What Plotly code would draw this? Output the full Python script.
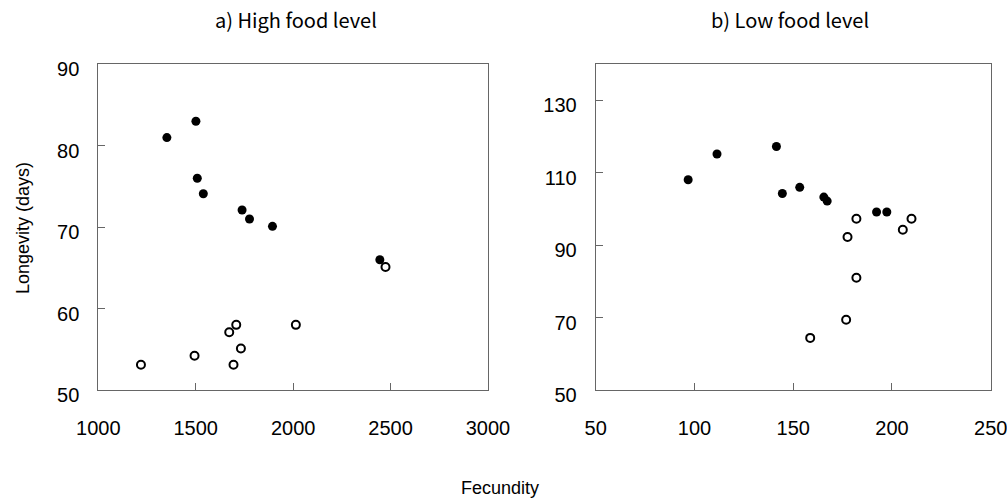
import plotly.graph_objects as go

# a) High food level
high_filled_fec = [1352, 1501, 1508, 1539, 1738, 1776, 1894, 2445]
high_filled_lon = [81.0, 83.0, 76.0, 74.1, 72.1, 71.0, 70.1, 66.0]
high_open_fec = [2474, 1219, 1494, 1672, 1708, 1732, 1694, 2014]
high_open_lon = [65.1, 53.1, 54.2, 57.1, 58.0, 55.1, 53.1, 58.0]

# b) Low food level
low_filled_fec = [96.8, 111.4, 141.5, 144.5, 153.3, 165.5, 167.2, 192.2, 197.4]
low_filled_lon = [108.1, 115.2, 117.3, 104.3, 106.0, 103.3, 102.2, 99.2, 99.2]
low_open_fec = [182.0, 177.5, 182.0, 176.8, 158.6, 205.5, 209.9]
low_open_lon = [97.3, 92.3, 81.0, 69.4, 64.4, 94.3, 97.3]

titles = ["a) High food level", "b) Low food level"]

fig = go.Figure()
filled = dict(symbol="circle", size=9, color="black", line=dict(width=0))
opened = dict(symbol="circle-open", size=8, color="black", line=dict(width=2))

fig.add_trace(go.Scatter(x=high_filled_fec, y=high_filled_lon, mode="markers", marker=filled, xaxis="x", yaxis="y"))
fig.add_trace(go.Scatter(x=high_open_fec, y=high_open_lon, mode="markers", marker=opened, xaxis="x", yaxis="y"))
fig.add_trace(go.Scatter(x=low_filled_fec, y=low_filled_lon, mode="markers", marker=filled, xaxis="x2", yaxis="y2"))
fig.add_trace(go.Scatter(x=low_open_fec, y=low_open_lon, mode="markers", marker=opened, xaxis="x2", yaxis="y2"))

sans = "Liberation Sans, Arial, sans-serif"
tickfont = dict(family=sans, size=20, color="black")
axcommon = dict(showgrid=False, zeroline=False, showline=True, linecolor="#666", linewidth=1,
                mirror=True, ticks="inside", ticklen=7, tickcolor="#666", tickfont=tickfont,
                automargin=False, ticklabeloverflow="allow")
xcommon = dict(ticklabelstandoff=20, **axcommon)
ycommon = dict(ticklabelstandoff=14, ticklabelshift=5, **axcommon)

ydom = [0.2231, 0.8719]
fig.update_layout(
    width=1007, height=502,
    margin=dict(l=0, r=0, t=0, b=0),
    paper_bgcolor="white", plot_bgcolor="white",
    showlegend=False,
    xaxis=dict(domain=[0.0976, 0.4846], range=[1000, 3000], tickvals=[1000, 1500, 2000, 2500, 3000], anchor="y", **xcommon),
    yaxis=dict(domain=ydom, range=[50, 90], tickvals=[50, 60, 70, 80, 90], anchor="x", **ycommon),
    xaxis2=dict(domain=[0.5916, 0.9838], range=[50, 250], tickvals=[50, 100, 150, 200, 250], anchor="y2", **xcommon),
    yaxis2=dict(domain=ydom, range=[50, 140], tickvals=[50, 70, 90, 110, 130], anchor="x2", **ycommon),
)

titlefont = dict(family="Noto Sans CJK JP, sans-serif", size=20, color="black")
fig.add_annotation(text=titles[0], x=295.5 / 1007, y=1 - 20 / 502, xref="paper", yref="paper",
                   showarrow=False, font=titlefont, xanchor="center", yanchor="middle")
fig.add_annotation(text=titles[1], x=790 / 1007, y=1 - 20 / 502, xref="paper", yref="paper",
                   showarrow=False, font=titlefont, xanchor="center", yanchor="middle")
fig.add_annotation(text="Longevity (days)", x=23 / 1007, y=1 - 228 / 502, xref="paper", yref="paper",
                   showarrow=False, textangle=-90, font=dict(family=sans, size=18, color="black"),
                   xanchor="center", yanchor="middle")
fig.add_annotation(text="Fecundity", x=500 / 1007, y=1 - 488 / 502, xref="paper", yref="paper",
                   showarrow=False, font=dict(family=sans, size=18, color="black"),
                   xanchor="center", yanchor="middle")

fig.write_html("out.html", config={"displayModeBar": False},
               post_script="document.body.style.margin='0';document.body.style.overflow='hidden';")
